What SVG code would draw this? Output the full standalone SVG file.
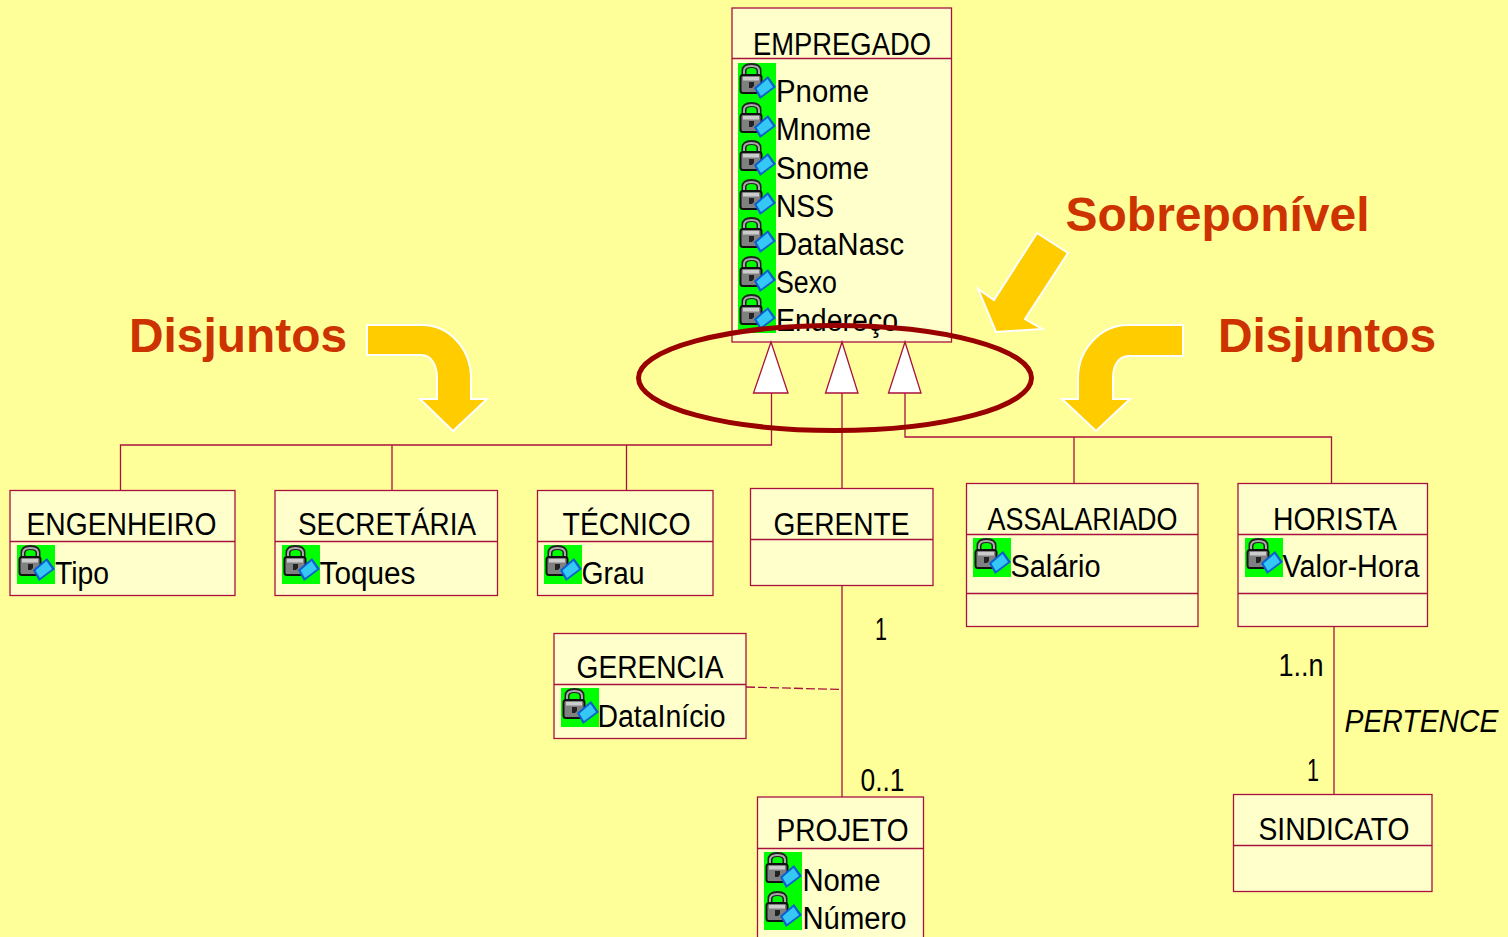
<svg xmlns="http://www.w3.org/2000/svg" xmlns:xlink="http://www.w3.org/1999/xlink" width="1508" height="937" viewBox="0 0 1508 937">
<style>
.box{fill:#FFFFCC;stroke:#A8123F;stroke-width:1.3}
.div{stroke:#A8123F;stroke-width:1.3;fill:none}
.line{stroke:#A8123F;stroke-width:1.3;fill:none}
.tri{fill:#fff;stroke:#A8123F;stroke-width:1.3}
.t{font-family:"Liberation Sans",Arial,sans-serif;font-size:31px;fill:#000}
.i{font-style:italic}
.h{font-family:"Liberation Sans",Arial,sans-serif;font-size:48px;font-weight:bold;fill:#CC3300}
.arrow{fill:#FFCC00;stroke:#fff;stroke-width:2}
</style>
<defs>
<g id="icon">
<rect width="38" height="39" fill="#00FF00"/>
<path d="M6 14V8Q6 2.500 13.500 2.500Q21 2.500 21 8V14" fill="none" stroke="#222" stroke-width="5"/>
<path d="M6 12V8Q6 3 13.500 3Q21 3 21 8V12" fill="none" stroke="#aaa" stroke-width="2"/>
<rect x="2.500" y="12" width="21" height="18" rx="2.500" fill="#808080" stroke="#111" stroke-width="2"/>
<rect x="5" y="14" width="16" height="3.500" fill="#ccc"/>
<path d="M11 19H16V23L14 25H11Z" fill="#222"/>
<path d="M30 13L38 24L22 36L16 25Z" fill="#0B5FD0"/>
<path d="M29.500 16L35 24L23 33L18.500 25.500Z" fill="#35C8F5"/>
</g>
</defs>
<rect width="1508" height="937" fill="#FFFF99"/>

<g id="connectors">
<path class="line" d="M771.500 393V445H120.500V490M392 445V490M626.500 445V490"/>
<path class="line" d="M842 393V488"/>
<path class="line" d="M905 393V437H1331.500V483M1074 437V483"/>
<path class="line" d="M842 585V797"/>
<path class="line" stroke-dasharray="9 3" d="M746 687L842 689.500"/>
<path class="line" d="M1334 626V794"/>
</g>

<g id="empregado">
<rect class="box" x="732" y="8" width="219.500" height="334"/>
<path class="div" d="M732 58.500H951"/>
<text class="t" x="753" y="55" textLength="178" lengthAdjust="spacingAndGlyphs">EMPREGADO</text>
<use xlink:href="#icon" href="#icon" x="738" y="63"/>
<use xlink:href="#icon" href="#icon" x="738" y="102"/>
<use xlink:href="#icon" href="#icon" x="738" y="140"/>
<use xlink:href="#icon" href="#icon" x="738" y="179"/>
<use xlink:href="#icon" href="#icon" x="738" y="217"/>
<use xlink:href="#icon" href="#icon" x="738" y="256"/>
<use xlink:href="#icon" href="#icon" x="738" y="294"/>
<text class="t" x="776" y="101.500" textLength="93" lengthAdjust="spacingAndGlyphs">Pnome</text>
<text class="t" x="776" y="139.500" textLength="95" lengthAdjust="spacingAndGlyphs">Mnome</text>
<text class="t" x="776" y="178.500" textLength="93" lengthAdjust="spacingAndGlyphs">Snome</text>
<text class="t" x="776" y="216.500" textLength="58" lengthAdjust="spacingAndGlyphs">NSS</text>
<text class="t" x="776" y="254.500" textLength="128" lengthAdjust="spacingAndGlyphs">DataNasc</text>
<text class="t" x="776" y="292.500" textLength="61" lengthAdjust="spacingAndGlyphs">Sexo</text>
<text class="t" x="776" y="330.500" textLength="122" lengthAdjust="spacingAndGlyphs">Endereço</text>
</g>

<g id="generalizations">
<path class="tri" d="M771 342L753.500 393H788Z"/>
<path class="tri" d="M842 342L825.500 393H858Z"/>
<path class="tri" d="M905 342L888.500 393H921Z"/>
</g>

<g id="engenheiro">
<rect class="box" x="10" y="490.500" width="225" height="105"/>
<path class="div" d="M10 541.500H235"/>
<text class="t" x="26.500" y="534.500" textLength="190" lengthAdjust="spacingAndGlyphs">ENGENHEIRO</text>
<use xlink:href="#icon" href="#icon" x="17" y="545"/>
<text class="t" x="55" y="583.500" textLength="54" lengthAdjust="spacingAndGlyphs">Tipo</text>
</g>
<g id="secretaria">
<rect class="box" x="275" y="490.500" width="222.500" height="105"/>
<path class="div" d="M275 541.500H497"/>
<text class="t" x="298" y="534.500" textLength="178" lengthAdjust="spacingAndGlyphs">SECRETÁRIA</text>
<use xlink:href="#icon" href="#icon" x="282" y="545"/>
<text class="t" x="319.500" y="583.500" textLength="96" lengthAdjust="spacingAndGlyphs">Toques</text>
</g>
<g id="tecnico">
<rect class="box" x="537.500" y="490.500" width="175.500" height="105"/>
<path class="div" d="M537 541.500H713"/>
<text class="t" x="562.500" y="534.500" textLength="128" lengthAdjust="spacingAndGlyphs">TÉCNICO</text>
<use xlink:href="#icon" href="#icon" x="544" y="545"/>
<text class="t" x="581.500" y="583.500" textLength="63" lengthAdjust="spacingAndGlyphs">Grau</text>
</g>
<g id="gerente">
<rect class="box" x="750.500" y="488.500" width="182.500" height="97"/>
<path class="div" d="M750 539.500H933"/>
<text class="t" x="773.500" y="535" textLength="136" lengthAdjust="spacingAndGlyphs">GERENTE</text>
</g>
<g id="assalariado">
<rect class="box" x="966.500" y="483.500" width="231.500" height="143"/>
<path class="div" d="M966 534.500H1198M966 593.500H1198"/>
<text class="t" x="987.500" y="529.500" textLength="190" lengthAdjust="spacingAndGlyphs">ASSALARIADO</text>
<use xlink:href="#icon" href="#icon" x="973" y="538"/>
<text class="t" x="1010.500" y="576.500" textLength="90" lengthAdjust="spacingAndGlyphs">Salário</text>
</g>
<g id="horista">
<rect class="box" x="1238" y="483.500" width="189.500" height="143"/>
<path class="div" d="M1238 534.500H1427M1238 593.500H1427"/>
<text class="t" x="1273" y="529.500" textLength="124" lengthAdjust="spacingAndGlyphs">HORISTA</text>
<use xlink:href="#icon" href="#icon" x="1245" y="538"/>
<text class="t" x="1282.500" y="576.500" textLength="137" lengthAdjust="spacingAndGlyphs">Valor-Hora</text>
</g>
<g id="gerencia">
<rect class="box" x="554" y="633.500" width="192" height="105"/>
<path class="div" d="M554 684.500H746"/>
<text class="t" x="576.500" y="678" textLength="147" lengthAdjust="spacingAndGlyphs">GERENCIA</text>
<use xlink:href="#icon" href="#icon" x="561" y="688"/>
<text class="t" x="597.500" y="726.500" textLength="128" lengthAdjust="spacingAndGlyphs">DataInício</text>
</g>
<g id="projeto">
<rect class="box" x="757.500" y="797" width="166" height="150"/>
<path class="div" d="M757 848.500H923"/>
<text class="t" x="776.500" y="841" textLength="132" lengthAdjust="spacingAndGlyphs">PROJETO</text>
<use xlink:href="#icon" href="#icon" x="764" y="852"/>
<use xlink:href="#icon" href="#icon" x="764" y="891"/>
<text class="t" x="802.500" y="890.500" textLength="78" lengthAdjust="spacingAndGlyphs">Nome</text>
<text class="t" x="802.500" y="928.500" textLength="104" lengthAdjust="spacingAndGlyphs">Número</text>
</g>
<g id="sindicato">
<rect class="box" x="1233.500" y="794.500" width="198.500" height="97"/>
<path class="div" d="M1233 845.500H1432"/>
<text class="t" x="1258.500" y="839.500" textLength="151" lengthAdjust="spacingAndGlyphs">SINDICATO</text>
</g>

<g id="connector-labels">
<text class="t" x="875" y="639.500" textLength="12" lengthAdjust="spacingAndGlyphs">1</text>
<text class="t" x="860.500" y="790.500" textLength="44" lengthAdjust="spacingAndGlyphs">0..1</text>
<text class="t" x="1278.500" y="675.500" textLength="45" lengthAdjust="spacingAndGlyphs">1..n</text>
<text class="t" x="1307" y="780.500" textLength="12" lengthAdjust="spacingAndGlyphs">1</text>
<text class="t i" x="1344.500" y="731.500" textLength="154" lengthAdjust="spacingAndGlyphs">PERTENCE</text>
</g>

<g id="annotations">
<ellipse cx="835" cy="378" rx="196.500" ry="52.500" fill="none" stroke="#990000" stroke-width="5"/>
<path class="arrow" d="M367 325H422C450 325 471 350 471 378V399H487L453 431L420 399H437V378C437 366 432 355 421 355H367Z"/>
<path class="arrow" d="M1183 325H1128C1100 325 1078 350 1078 378V399H1062L1096 431L1130 399H1113V378C1113 366 1118 356 1129 356H1183Z"/>
<path class="arrow" d="M1037 233L1068 253L1025 319L1042 329L996 332L978 289L994 300Z"/>
<text class="h" x="129" y="352" textLength="218" lengthAdjust="spacingAndGlyphs">Disjuntos</text>
<text class="h" x="1065.500" y="231" textLength="304" lengthAdjust="spacingAndGlyphs">Sobreponível</text>
<text class="h" x="1218" y="352" textLength="218" lengthAdjust="spacingAndGlyphs">Disjuntos</text>
</g>
</svg>
